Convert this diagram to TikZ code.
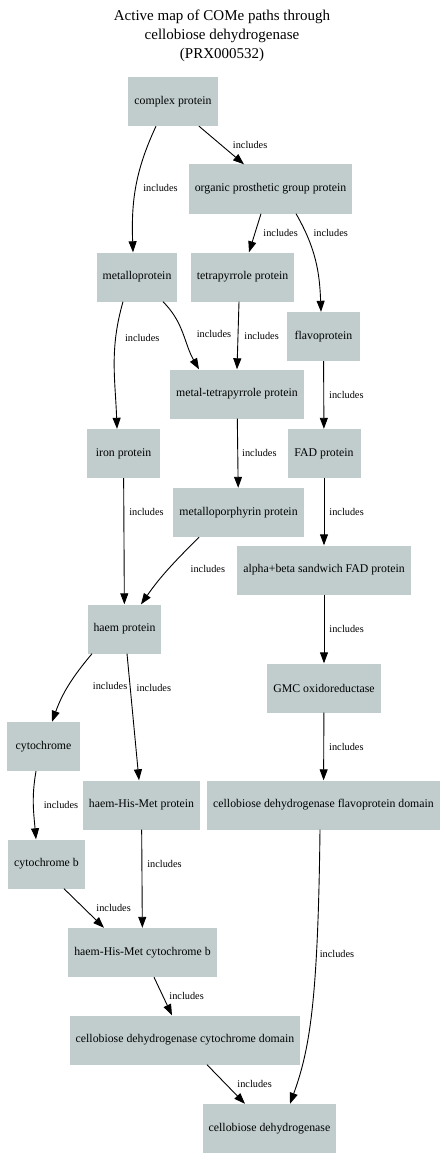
\documentclass[tikz,border=0pt]{standalone}
\usepackage{fontspec}
\setmainfont{Liberation Serif}
\usetikzlibrary{arrows.meta}
\definecolor{nodegray}{RGB}{193,205,205}

\begin{document}
\begin{tikzpicture}[
 x=1pt,y=1pt,
 box/.style={fill=nodegray,align=center,inner xsep=6pt,minimum width=73pt,minimum height=49pt,font=\fontsize{11.8}{14}\selectfont},
 lbl/.style={font=\fontsize{10.3}{12}\selectfont,inner sep=0pt,right},
 arr/.style={-{Triangle[length=11pt,width=8pt]},line width=0.9pt}
]
\useasboundingbox (0,0) rectangle (444,-1169);
\node[align=center,font=\fontsize{15}{19}\selectfont] (title) at (222,-36) {Active map of COMe paths through\\cellobiose dehydrogenase\\(PRX000532)};
\node[box] (complexp) at (173,-101.5) {complex protein};
\node[box] (organic) at (270.5,-189) {organic prosthetic group protein};
\node[box] (metallo) at (137,-277) {metalloprotein};
\node[box] (tetra) at (242.5,-277) {tetrapyrrole protein};
\node[box] (flavo) at (323.5,-336.5) {flavoprotein};
\node[box] (mtp) at (237,-394) {metal-tetrapyrrole protein};
\node[box] (iron) at (123.5,-453.5) {iron protein};
\node[box] (fad) at (324,-453.5) {FAD protein};
\node[box] (mporph) at (238.5,-512.5) {metalloporphyrin protein};
\node[box] (absand) at (324,-570) {alpha+beta sandwich FAD protein};
\node[box] (haem) at (124.5,-629) {haem protein};
\node[box] (gmc) at (324,-688) {GMC oxidoreductase};
\node[box] (cyt) at (43.5,-746.5) {cytochrome};
\node[box] (hhm) at (141.5,-805) {haem-His-Met protein};
\node[box] (cbdflav) at (323.5,-805) {cellobiose dehydrogenase flavoprotein domain};
\node[box] (cytb) at (46.5,-864) {cytochrome b};
\node[box] (hhmcytb) at (142.5,-952.5) {haem-His-Met cytochrome b};
\node[box] (cbdcyt) at (185,-1040) {cellobiose dehydrogenase cytochrome domain};
\node[box] (cbd) at (269.5,-1128.5) {cellobiose dehydrogenase};
\draw[arr] ([xshift=-17pt]complexp.south) to[out=-115,in=92] node[lbl,pos=.5,right=7pt] {includes} ([xshift=-4pt]metallo.north);
\draw[arr] ([xshift=26pt]complexp.south) -- node[lbl,right=11pt] {includes} ([xshift=-26.5pt]organic.north);
\draw[arr] ([xshift=-9.5pt]organic.south) -- node[lbl,right=8pt] {includes} ([xshift=6.5pt]tetra.north);
\draw[arr] ([xshift=25.5pt]organic.south) to[out=-60,in=92] node[lbl,pos=.2,right=7pt] {includes} ([xshift=-2.5pt]flavo.north);
\draw[arr] ([xshift=-14pt]metallo.south) to[out=-106,in=92] node[lbl,pos=.28,right=9pt] {includes} ([xshift=-6.5pt]iron.north);
\draw[arr] ([xshift=26pt]metallo.south) to[out=-45,in=120] node[lbl,pos=.5,right=13pt] {includes} ([xshift=-38pt]mtp.north);
\draw[arr] ([xshift=-3.5pt]tetra.south) -- node[lbl,right=6pt] {includes} (mtp.north);
\draw[arr] (flavo) -- node[lbl,right=5pt] {includes} (fad);
\draw[arr] (mtp) -- node[lbl,right=4pt] {includes} (mporph);
\draw[arr] (iron) -- node[lbl,pos=.27,right=5pt] {includes} (haem);
\draw[arr] (fad) -- node[lbl,right=5pt] {includes} (absand);
\draw[arr] ([xshift=-39.5pt]mporph.south) to[out=-135,in=55] node[lbl,pos=.5,right=22pt] {includes} ([xshift=16.5pt]haem.north);
\draw[arr] (absand) -- node[lbl,right=5pt] {includes} (gmc);
\draw[arr] ([xshift=-32.5pt]haem.south) to[out=-130,in=70] node[lbl,pos=.5,right=24pt] {includes} ([xshift=8.5pt]cyt.north);
\draw[arr] ([xshift=2.5pt]haem.south) -- node[lbl,pos=.27,right=6pt] {includes} ([xshift=-2.5pt]hhm.north);
\draw[arr] (gmc) -- node[lbl,right=5pt] {includes} (cbdflav);
\draw[arr] ([xshift=-7.5pt]cyt.south) to[out=-100,in=95] node[lbl,pos=.5,right=10pt] {includes} ([xshift=-10.5pt]cytb.north);
\draw[arr] (hhm) -- node[lbl,pos=.35,right=5pt] {includes} (hhmcytb);
\draw[arr] ([xshift=-3.5pt]cbdflav.south) .. controls +(-2,-170) and +(20,55) .. node[lbl,pos=.3,right=3pt] {includes} ([xshift=20.5pt]cbd.north);
\draw[arr] ([xshift=17.5pt]cytb.south) -- node[lbl,right=12pt] {includes} ([xshift=-38.5pt]hhmcytb.north);
\draw[arr] ([xshift=11.5pt]hhmcytb.south) -- node[lbl,right=6pt] {includes} ([xshift=-13pt]cbdcyt.north);
\draw[arr] ([xshift=22pt]cbdcyt.south) -- node[lbl,right=11pt] {includes} ([xshift=-24.5pt]cbd.north);
\end{tikzpicture}
\end{document}
